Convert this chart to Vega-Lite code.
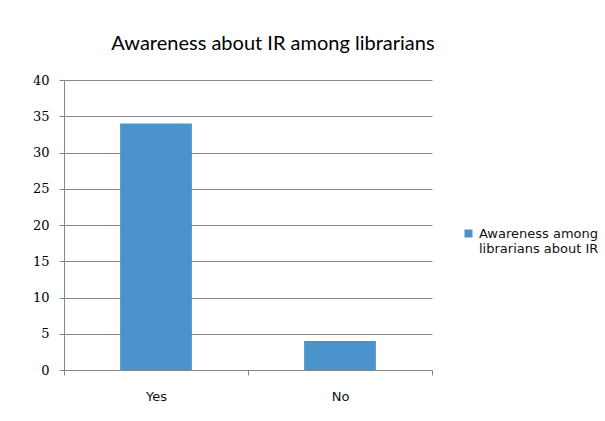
{
  "$schema": "https://vega.github.io/schema/vega-lite/v6.json",
  "autosize": {"type": "none"},
  "padding": {"left": 64, "top": 80, "right": 173, "bottom": 51},
  "width": 368,
  "height": 290,
  "background": "white",
  "title": {
    "text": "Awareness about IR among librarians",
    "font": "Lato",
    "fontSize": 20,
    "fontWeight": "normal",
    "color": "#000000",
    "anchor": "middle",
    "dx": 25,
    "offset": 20
  },
  "data": {
    "values": [
      {"answer": "Yes", "count": 34, "series": "Awareness among librarians about IR"},
      {"answer": "No", "count": 4, "series": "Awareness among librarians about IR"}
    ]
  },
  "mark": {"type": "bar", "width": {"band": 0.39}},
  "encoding": {
    "x": {
      "field": "answer",
      "type": "nominal",
      "sort": ["Yes", "No"],
      "scale": {"paddingInner": 0, "paddingOuter": 0},
      "axis": {
        "title": null,
        "labelAngle": 0,
        "tickBand": "extent",
        "grid": false,
        "labelFont": "DejaVu Sans",
        "labelFontSize": 13,
        "labelColor": "#111111",
        "labelPadding": 15,
        "tickSize": 5,
        "tickColor": "#868686",
        "domainColor": "#868686"
      }
    },
    "y": {
      "field": "count",
      "type": "quantitative",
      "scale": {"domain": [0, 40], "nice": false},
      "axis": {
        "title": null,
        "values": [0, 5, 10, 15, 20, 25, 30, 35, 40],
        "grid": true,
        "gridColor": "#868686",
        "gridWidth": 1,
        "labelFont": "DejaVu Serif",
        "labelFontSize": 13,
        "labelColor": "#000000",
        "labelPadding": 10,
        "tickSize": 5,
        "tickColor": "#868686",
        "domainColor": "#868686"
      }
    },
    "color": {
      "field": "series",
      "type": "nominal",
      "scale": {"range": ["#4a93cb"]},
      "legend": {
        "title": null,
        "orient": "none",
        "legendX": 398,
        "legendY": 147,
        "padding": 0,
        "symbolType": "square",
        "symbolSize": 64,
        "labelOffset": 4,
        "labelFont": "DejaVu Sans",
        "labelFontSize": 13,
        "labelColor": "#111111",
        "labelLimit": 0,
        "labelExpr": "['Awareness among', 'librarians about IR']"
      }
    }
  },
  "config": {
    "view": {"stroke": null}
  }
}
